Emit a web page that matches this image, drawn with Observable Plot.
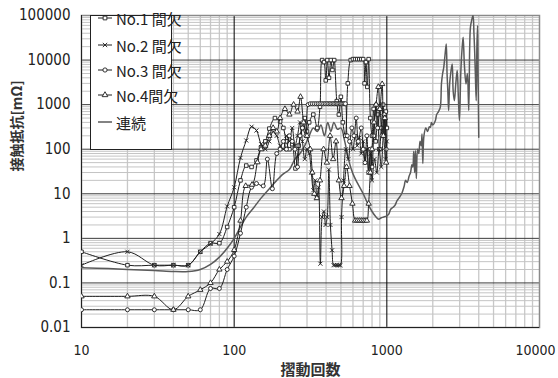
<!DOCTYPE html>
<html><head><meta charset="utf-8">
<script src="https://cdn.jsdelivr.net/npm/d3@7"></script>
<script src="https://cdn.jsdelivr.net/npm/@observablehq/plot@0.6"></script>
<style>
html,body{margin:0;padding:0;background:#fff;}
#c{position:relative;width:558px;height:378px;overflow:hidden;}
#legend{position:absolute;left:90px;top:15px;width:80px;height:133px;border:1px solid #222;background:#fff;}
#legend .row{position:absolute;left:0;height:20px;display:flex;align-items:center;}
#legend .row span{font:15px "Liberation Sans Narrow","Noto Sans CJK JP",sans-serif;color:#222;margin-left:2px;white-space:nowrap;}
</style>
</head><body><div id="c"></div>
<script>
const xTicks = [10, 100, 1000, 10000];
const yTicks = [0.01, 0.1, 1, 10, 100, 1000, 10000, 100000];
const xLabel = "摺動回数";
const yLabel = "接触抵抗[mΩ]";
const seriesNames = ["No.1 間欠", "No.2 間欠", "No.3 間欠", "No.4間欠", "連続"];

const no1 = [[10,0.5],[20,0.25],[30,0.25],[40,0.25],[50,0.25],[60,0.5],[70,0.78],[80,0.78],[90,1.8],[100,5],[110,20],[120,43],[130,40],[140,56],[150,110],[160,150],[170,290],[185,500],[200,420],[210,300],[220,150],[230,100],[240,130],[252,37],[265,120],[280,300],[290,500],[300,250],[310,400],[330,600],[350,300],[365,900],[377,10000],[388,9000],[398,3500],[408,10000],[418,4000],[430,10000],[440,6000],[452,10000],[470,1200],[485,600],[500,1500],[515,400],[535,200],[555,3000],[580,10000],[600,10500],[620,10500],[640,10500],[660,10500],[680,10500],[700,10500],[715,3000],[730,9000],[745,2500],[760,10500],[780,500],[800,200],[820,800],[845,150],[870,600],[895,100],[920,300],[945,1000],[965,200],[985,700],[1000,300]];

const no2 = [[10,0.25],[20,0.5],[30,0.25],[40,0.25],[50,0.25],[60,0.5],[70,0.75],[80,1.25],[90,5.2],[100,14],[110,64],[120,157],[130,320],[140,263],[150,130],[160,100],[170,150],[180,250],[190,200],[200,120],[210,100],[220,200],[230,150],[240,300],[250,120],[260,200],[270,400],[280,150],[290,60],[300,100],[310,80],[320,30],[330,12],[340,20],[348,8],[357,14],[367,0.27],[377,3],[387,4],[397,2],[407,3],[417,35],[427,2],[438,0.54],[448,0.25],[460,0.25],[472,0.25],[485,0.25],[497,0.25],[505,3],[520,20],[540,100],[560,60],[580,150],[600,100],[620,200],[640,120],[660,180],[680,80],[700,150],[720,50],[740,100],[760,30],[780,80],[800,20],[830,60],[860,30],[890,100],[920,40],[950,200],[980,60],[1000,150]];

const no3 = [[10,0.025],[20,0.025],[30,0.025],[40,0.025],[50,0.025],[60,0.025],[70,0.075],[80,0.075],[90,0.2],[100,0.4],[110,1.3],[120,5],[130,14],[140,17],[155,15],[165,60],[178,13],[190,80],[200,100],[210,150],[220,100],[230,200],[240,150],[250,100],[260,40],[270,200],[280,300],[295,200],[305,1000],[315,1050],[325,1050],[335,1050],[345,1050],[355,1050],[365,1050],[375,1050],[385,1050],[395,1050],[405,1050],[415,1050],[425,1050],[435,1050],[445,1050],[455,1050],[465,1050],[475,1050],[485,1050],[495,1050],[505,1050],[515,1050],[525,1050],[535,1050],[550,200],[570,150],[590,300],[610,200],[630,500],[650,150],[680,300],[700,100],[720,50],[740,200],[760,30],[780,100],[800,40],[820,200],[850,1000],[870,300],[900,800],[930,200],[960,600],[990,100]];

const no4 = [[10,0.05],[20,0.05],[30,0.05],[40,0.025],[50,0.05],[60,0.07],[70,0.1],[80,0.2],[90,0.3],[100,0.55],[110,2.5],[119,15],[131,16],[142,51],[150,100],[160,120],[170,200],[180,300],[190,250],[200,500],[215,800],[230,600],[245,1000],[260,700],[272,1500],[285,400],[300,200],[315,100],[325,30],[335,10],[348,8],[365,20],[385,100],[405,50],[425,200],[445,60],[465,150],[485,20],[505,8],[525,15],[545,40],[570,15],[595,6],[620,2.5],[640,2.5],[660,2.5],[680,2.5],[700,2.5],[720,2.5],[740,2.5],[760,6],[780,30],[800,100],[825,400],[850,1000],[880,2500],[900,800],[932,2900],[950,200],[970,500],[990,50]];

const cont = [[10,0.22],[15,0.21],[20,0.2],[30,0.19],[40,0.18],[50,0.18],[60,0.2],[70,0.26],[80,0.38],[90,0.6],[100,1],[110,1.8],[120,3],[135,5],[150,8],[170,13],[190,20],[210,28],[230,35],[250,60],[270,80],[290,120],[310,200],[330,300],[350,250],[370,350],[390,200],[410,400],[430,250],[450,400],[475,280],[500,300],[530,150],[560,60],[600,28],[650,16],[700,10],[750,6],[800,4],[850,3],[885,2.7],[920,2.9],[950,3],[1000,3.2],[1030,3.5],[1060,4.5],[1100,5],[1130,5.5],[1167,7],[1200,8],[1250,10],[1300,15],[1325,20],[1360,18],[1400,25],[1430,30],[1460,45],[1480,40],[1500,90],[1520,30],[1540,94],[1560,22],[1590,100],[1620,80],[1650,150],[1680,120],[1700,220],[1720,48],[1750,200],[1800,300],[1850,250],[1900,320],[1930,310],[1960,400],[2000,350],[2080,440],[2120,600],[2180,700],[2240,880],[2280,3000],[2320,5000],[2360,6900],[2400,12000],[2450,23000],[2480,5000],[2510,2000],[2540,740],[2580,3000],[2620,5000],[2680,8200],[2720,2000],[2770,1230],[2830,3000],[2890,5800],[2940,1500],[2990,440],[3050,5000],[3100,15000],[3160,32600],[3220,8000],[3300,2900],[3370,5000],[3440,740],[3490,20000],[3530,55000],[3600,80000],[3670,100000],[3720,40000],[3760,16000],[3800,5000],[3850,1230],[3890,20000],[3930,60000],[3960,5000],[4000,186]];

const seriesSymbols = ["square", "times", "circle", "triangle"];
const intermittent = [no1, no2, no3, no4];

// minor gridline positions (2..9 × each decade)
const xMinor = [], yMinor = [];
for (let i = 0; i < xTicks.length - 1; i++) for (let k = 2; k <= 9; k++) xMinor.push(xTicks[i] * k);
for (let i = 0; i < yTicks.length - 1; i++) for (let k = 2; k <= 9; k++) yMinor.push(yTicks[i] * k);

const FONT = '"Liberation Sans Narrow", "DejaVu Sans Condensed", "Noto Sans CJK JP", sans-serif';
const INK = "#1e1e1e";
const GRAYLINE = "#5a5a5a";

const marks = [
  Plot.ruleX(xMinor, {stroke: "#c8c8c8", strokeWidth: 1.3}),
  Plot.ruleY(yMinor, {stroke: "#c4c4c4", strokeWidth: 1}),
  Plot.ruleY(yTicks.slice(1, -1), {stroke: "#3a3a3a", strokeWidth: 1}),
  Plot.ruleX(xTicks.slice(1, -1), {stroke: "#000", strokeWidth: 1}),
  Plot.frame({stroke: "#8a8a8a", strokeWidth: 1.5}),
  Plot.ruleX([10], {stroke: "#222"}),
  Plot.ruleY([0.01], {stroke: "#222"}),
  Plot.line(cont, {x: d => d[0], y: d => d[1], stroke: GRAYLINE, strokeWidth: 1.5, curve: "catmull-rom", clip: true})
];
intermittent.forEach((s, i) => {
  marks.push(Plot.line(s, {x: d => d[0], y: d => d[1], stroke: INK, strokeWidth: 1, curve: "catmull-rom", clip: true}));
  marks.push(Plot.dot(s, {x: d => d[0], y: d => d[1], symbol: () => seriesSymbols[i], r: 2, stroke: INK, strokeWidth: 0.9, fill: "#fff", clip: true}));
});
marks.push(
  Plot.axisX(xTicks.slice(0, -1), {tickSize: 0, tickPadding: 18, fontSize: 14, tickFormat: d => String(d), label: null}),
  Plot.axisX(xTicks.slice(-1), {tickSize: 0, tickPadding: 18, fontSize: 14, dx: -4, tickFormat: d => String(d), label: null}),
  Plot.axisY(yTicks, {tickSize: 0, tickPadding: 11, fontSize: 15, tickFormat: d => String(d), label: null}),
  Plot.text([xLabel], {frameAnchor: "bottom", dy: 43, lineAnchor: "middle", fontSize: 15, fontWeight: "bold", fill: "#333", fontFamily: '"Noto Sans CJK JP", sans-serif'}),
  Plot.text([yLabel], {frameAnchor: "left", dx: -64, rotate: -90, lineAnchor: "middle", fontSize: 14, fontWeight: "bold", fill: "#333", fontFamily: '"Noto Sans CJK JP", sans-serif', letterSpacing: 2})
);

const chart = Plot.plot({
  width: 558, height: 378,
  marginLeft: 81, marginRight: 19, marginTop: 15, marginBottom: 51,
  style: {fontFamily: FONT, fontSize: "15px", color: "#222", background: "#fff"},
  x: {type: "log", domain: [10, 10000]},
  y: {type: "log", domain: [0.01, 100000]},
  marks
});
const host = document.getElementById("c");
host.appendChild(chart);

// legend box overlaid inside the plot area
const legend = d3.select(host).append("div").attr("id", "legend");
const rowTop = [17, 44, 69, 94, 121];
const symMap = {square: d3.symbolSquare, times: d3.symbolTimes, circle: d3.symbolCircle, triangle: d3.symbolTriangle};
seriesNames.forEach((name, i) => {
  const row = legend.append("div").attr("class", "row").style("top", (rowTop[i] - 15 - 10) + "px");
  const s = row.append("svg").attr("width", 23).attr("height", 20).style("display", "block");
  s.append("line").attr("x1", 7).attr("x2", 21).attr("y1", 10).attr("y2", 10)
    .attr("stroke", i < 4 ? INK : GRAYLINE).attr("stroke-width", i < 4 ? 1 : 1.5);
  if (i < 4) {
    s.append("path").attr("d", d3.symbol(symMap[seriesSymbols[i]], 14)())
      .attr("transform", "translate(14,10)").attr("fill", "#fff").attr("stroke", INK).attr("stroke-width", 0.9);
  }
  row.append("span").text(name);
});
</script>
</body></html>
